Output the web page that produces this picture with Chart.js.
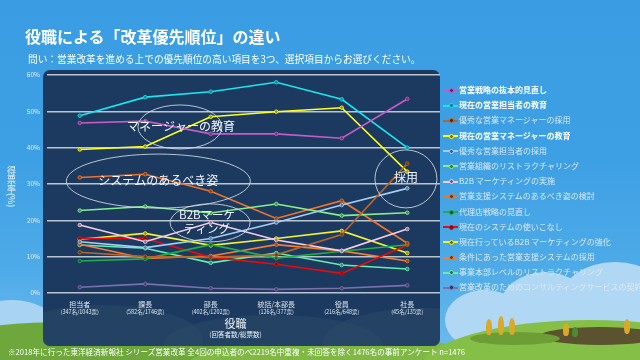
<!DOCTYPE html>
<html><head><meta charset="utf-8">
<script src="https://cdn.jsdelivr.net/npm/chart.js@4"></script>
<style>
html,body{margin:0;padding:0;}
body{width:640px;height:360px;overflow:hidden;position:relative;font-family:"Noto Sans CJK JP","Noto Sans",sans-serif;
background:linear-gradient(180deg,#3a9ce2 0%,#3ea0e4 45%,#4eabe8 75%,#6fbcec 100%);}
.abs{position:absolute;}
.cloud{position:absolute;border-radius:50%;background:#b0d8f4;}
.hill{position:absolute;border-radius:50%;}
.tree{position:absolute;width:6px;border-radius:50% 50% 40% 40%;background:#d9a92a;}
#panel{left:43px;top:70px;width:397px;height:276px;border-radius:7px;background:#1c3a60;overflow:hidden;}
#panel .ph{position:absolute;border-radius:50%;background:rgba(44,74,104,0.55);}
#title{left:25px;top:27px;font-size:16px;line-height:18px;font-weight:bold;color:#fff;white-space:nowrap;}
#sub{left:28px;top:53px;font-size:9.7px;line-height:12px;color:#fff;white-space:nowrap;}
#ytitle{left:6px;top:166px;writing-mode:vertical-rl;font-size:9px;line-height:10px;color:#eef4fa;white-space:nowrap;}
#foot{left:8px;top:347px;font-size:7.6px;line-height:10px;color:#fff;white-space:nowrap;}
#legend{left:443px;top:83px;width:197px;overflow:hidden;}
.row{position:relative;height:15.2px;white-space:nowrap;}
.mk{position:absolute;left:0;top:6.5px;width:15px;height:2px;}
.dot{position:absolute;left:5.5px;top:-1.5px;width:3px;height:3px;border-radius:50%;border:1px solid;}
.lt{position:absolute;left:16px;top:2px;font-size:8px;line-height:10px;color:#dbe8f5;}
.lt.b{color:#fff;font-weight:bold;}
canvas{position:absolute;left:0;top:0;}
</style></head>
<body>
<!-- clouds -->
<div class="cloud" style="left:445px;top:290px;width:80px;height:60px;"></div>
<div class="cloud" style="left:500px;top:272px;width:90px;height:70px;"></div>
<div class="cloud" style="left:560px;top:262px;width:110px;height:80px;"></div>
<div class="abs" style="left:470px;top:305px;width:170px;height:35px;background:#b0d8f4;"></div>
<div class="cloud" style="left:-30px;top:300px;width:85px;height:50px;background:#a8d3f2;"></div>
<!-- hills -->
<div class="hill" style="left:-120px;top:322px;width:380px;height:90px;background:#6ea83c;"></div>
<div class="hill" style="left:180px;top:334px;width:320px;height:80px;background:#7fb844;"></div>
<div class="hill" style="left:420px;top:320px;width:340px;height:100px;background:#86bf48;"></div>
<div class="hill" style="left:540px;top:327px;width:120px;height:18px;background:#5b5230;"></div>
<div class="hill" style="left:470px;top:332px;width:90px;height:13px;background:#6c9e35;"></div>
<div class="tree" style="left:486px;top:319px;height:16px;"></div>
<div class="tree" style="left:498px;top:316px;height:19px;"></div>
<div class="tree" style="left:509px;top:318px;height:17px;"></div>
<div class="tree" style="left:563px;top:323px;height:13px;"></div>
<div class="tree" style="left:572px;top:327px;height:10px;background:#4f8a2e;"></div>
<div class="tree" style="left:624px;top:319px;height:15px;"></div>
<!-- panel -->
<div id="panel" class="abs">
  <div class="ph" style="left:-40px;top:235px;width:200px;height:70px;"></div>
  <div class="ph" style="left:120px;top:245px;width:220px;height:60px;"></div>
  <div class="ph" style="left:280px;top:238px;width:200px;height:70px;"></div>
</div>
<canvas id="c" width="640" height="360"></canvas>
<div id="title" class="abs">役職による「改革優先順位」の違い</div>
<div id="sub" class="abs">問い：営業改革を進める上での優先順位の高い項目を3つ、選択項目からお選びください。</div>
<div id="ytitle" class="abs">得票率(%)</div>
<div id="legend" class="abs"></div>
<div id="foot" class="abs">※2018年に行った東洋経済新報社 シリーズ営業改革 全4回の申込者のべ2219名中重複・未回答を除く1476名の事前アンケート n=1476</div>
<script>
// ---- data ----
const categories = ['担当者','課長','部長','統括/本部長','役員','社長'];
const respondents = ['(347名/1043票)','(582名/1746票)','(402名/1202票)','(126名/377票)','(216名/648票)','(45名/135票)'];
const yTickValues = [0,10,20,30,40,50,60];
const seriesNames = [
  '営業戦略の抜本的見直し',
  '現在の営業担当者の教育',
  '優秀な営業マネージャーの採用',
  '現在の営業マネージャーの教育',
  '優秀な営業担当者の採用',
  '営業組織のリストラクチャリング',
  'B2B マーケティングの実施',
  '営業支援システムのあるべき姿の検討',
  '代理店戦略の見直し',
  '現在のシステムの使いこなし',
  '現在行っているB2B マーケティングの強化',
  '条件にあった営業支援システムの採用',
  '事業本部レベルのリストラクチャリング',
  '営業改革のためのコンサルティングサービスの契約'
];
const strategyReview   = [46.8, 47.3, 43.8, 43.8, 42.6, 53.4];
const repTraining      = [48.8, 53.9, 55.4, 58.0, 53.3, 40.0];
const mgrHiring        = [11.2, 10.0,  9.8, 10.5, 16.1, 35.6];
const mgrTraining      = [39.5, 40.3, 48.5, 49.9, 51.0, 33.4];
const repHiring        = [14.1, 12.5, 15.0, 19.4, 24.2, 28.8];
const orgRestructure   = [22.7, 23.8, 22.0, 24.5, 21.3, 22.1];
const b2bMarketing     = [18.7, 14.1, 19.4, 14.6, 11.6, 17.6];
const systemIdeal      = [31.8, 32.7, 28.0, 20.5, 25.4, 13.7];
const agencyStrategy   = [ 8.8,  9.4, 13.3,  9.6, 11.5, 13.3];
const systemUsage      = [15.0, 15.0,  9.8,  7.9,  5.4, 13.2];
const b2bStrengthen    = [14.8, 16.4, 13.1, 15.0, 17.1, 11.0];
const systemAdoption   = [13.4,  9.5, 10.2, 13.3, 11.6,  8.8];
const divisionRestruct = [13.2, 12.3,  8.3, 11.0,  7.7,  6.6];
const consulting       = [ 1.6,  2.5,  1.3,  1.0,  1.3,  2.1];
const seriesValues = [strategyReview, repTraining, mgrHiring, mgrTraining, repHiring, orgRestructure,
  b2bMarketing, systemIdeal, agencyStrategy, systemUsage, b2bStrengthen, systemAdoption, divisionRestruct, consulting];

// ---- styles ----
const seriesColors = ['#c65cc8','#19e6f0','#b8652a','#ffff1a','#a6cdf2','#86f08c','#f6cce6',
  '#f0742a','#1fae4a','#e80c0c','#f2f230','#f57f30','#66eeb0','#7d6fae'];
const boldLegend = [0,1,3];

function shade(hex, f){
  const n = parseInt(hex.slice(1),16);
  const r = Math.round(((n>>16)&255)*f), g = Math.round(((n>>8)&255)*f), b = Math.round((n&255)*f);
  return `rgb(${r},${g},${b})`;
}

// legend (HTML, from the arrays)
const lg = document.getElementById('legend');
seriesNames.forEach((name,i)=>{
  const row = document.createElement('div'); row.className='row';
  const mk = document.createElement('div'); mk.className='mk'; mk.style.background=seriesColors[i];
  const dot = document.createElement('div'); dot.className='dot';
  dot.style.background=shade(seriesColors[i],0.45); dot.style.borderColor=seriesColors[i];
  mk.appendChild(dot);
  const t = document.createElement('div'); t.className='lt'+(boldLegend.includes(i)?' b':''); t.textContent=name;
  row.appendChild(mk); row.appendChild(t); lg.appendChild(row);
});

const JP = '"Noto Sans CJK JP","Noto Sans",sans-serif';

const overlay = {
  id:'overlay',
  afterDatasetsDraw(chart){
    const {ctx, scales:{x,y}} = chart;
    const notes = [
      {i:1.53, v:45.7, rx:42, ry:22, dx:1, lines:['マネージャーの教育'], size:12},
      {i:1.20, v:30.8, rx:92, ry:27, dx:0, lines:['システムのあるべき姿'], size:12},
      {i:1.99, v:19.3, rx:40, ry:19, dx:-3, lines:['B2Bマーケ','ティング'], size:11.5},
      {i:4.98, v:31.4, rx:31, ry:29, dx:0, lines:['採用'], size:12}
    ];
    ctx.save();
    notes.forEach(n=>{
      const cx = x.getPixelForValue(n.i), cy = y.getPixelForValue(n.v);
      ctx.beginPath(); ctx.ellipse(cx, cy, n.rx, n.ry, 0, 0, Math.PI*2);
      ctx.strokeStyle='rgba(214,220,228,0.85)'; ctx.lineWidth=1; ctx.stroke();
      ctx.fillStyle='#f4f6f9'; ctx.font=`${n.size}px ${JP}`; ctx.textAlign='center'; ctx.textBaseline='middle';
      const lh = n.size*1.2, off = -(n.lines.length-1)*lh/2;
      n.lines.forEach((l,k)=>ctx.fillText(l, cx+n.dx, cy-1+off+k*lh));
    });
    ctx.restore();
  },
  afterDraw(chart){
    const {ctx, scales:{x}, chartArea:ca} = chart;
    ctx.save();
    ctx.textAlign='center'; ctx.textBaseline='middle';
    categories.forEach((c,i)=>{
      const px = x.getPixelForValue(i);
      ctx.fillStyle='#dfe6ee'; ctx.font=`7px ${JP}`; ctx.fillText(c, px, ca.bottom+11.5);
      ctx.font=`5.5px ${JP}`; ctx.fillText(respondents[i], px, ca.bottom+19);
    });
    const mx = (ca.left+ca.right)/2 - 8;
    ctx.fillStyle='#eef3f8'; ctx.font=`11px ${JP}`; ctx.fillText('役職', mx, ca.bottom+31);
    ctx.font=`6.5px ${JP}`; ctx.fillText('(回答者数/総票数)', mx, ca.bottom+42);
    ctx.restore();
  }
};

new Chart(document.getElementById('c'), {
  type:'line',
  data:{
    labels: categories,
    datasets: seriesValues.map((vals,i)=>({
      label: seriesNames[i],
      data: vals,
      borderColor: seriesColors[i],
      backgroundColor: seriesColors[i],
      borderWidth: 1.6,
      pointRadius: 1.8,
      pointBorderWidth: 0.8,
      pointBackgroundColor: shade(seriesColors[i],0.6),
      pointBorderColor: seriesColors[i],
      tension: 0,
      fill: false
    }))
  },
  options:{
    responsive:false, animation:false, devicePixelRatio:1,
    layout:{padding:{left:0, top:75, right:200, bottom:0}},
    plugins:{legend:{display:false}, tooltip:{enabled:false}},
    scales:{
      x:{
        offset:true,
        grid:{display:false},
        border:{display:false},
        ticks:{display:false},
        afterFit(s){ s.height = 67; }
      },
      y:{
        min:0, max:60,
        afterBuildTicks(s){ s.ticks = yTickValues.map(v=>({value:v})); },
        ticks:{callback:v=>v+'%', color:'#e6eef6', font:{size:6.5, family:JP}, padding:7},
        grid:{color:'rgba(205,212,222,0.9)', lineWidth:1.6, drawTicks:false},
        border:{display:false},
        afterFit(s){ s.width = 47; }
      }
    }
  },
  plugins:[overlay]
});
</script>
</body></html>
